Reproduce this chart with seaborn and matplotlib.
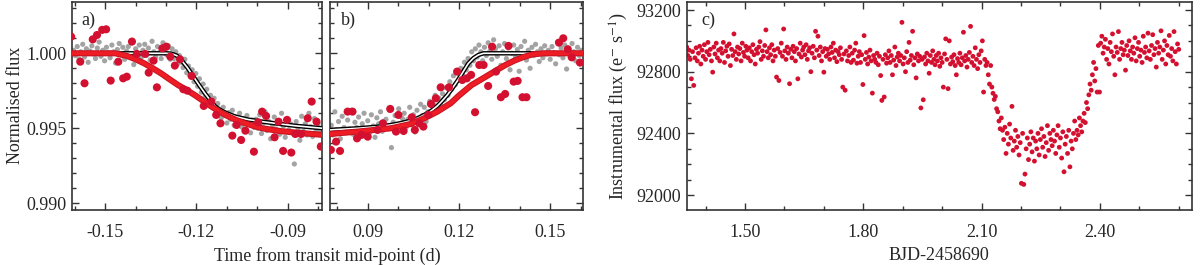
import numpy as np
import pandas as pd
import matplotlib
matplotlib.use("Agg")
import matplotlib.pyplot as plt
import seaborn as sns
from matplotlib.ticker import MultipleLocator, FormatStrFormatter

# Panel a: grey points (other light curves), red points, model curves

gray_a_x = [
    -0.1604, -0.1598, -0.1592, -0.1586, -0.1580, -0.1574, -0.1568, -0.1562, -0.1556, -0.1550,
    -0.1544, -0.1538, -0.1532, -0.1526, -0.1520, -0.1514, -0.1508, -0.1502, -0.1496, -0.1490,
    -0.1484, -0.1478, -0.1472, -0.1466, -0.1460, -0.1454, -0.1448, -0.1442, -0.1436, -0.1430,
    -0.1424, -0.1418, -0.1412, -0.1406, -0.1400, -0.1394, -0.1388, -0.1382, -0.1376, -0.1370,
    -0.1364, -0.1358, -0.1352, -0.1346, -0.1340, -0.1334, -0.1328, -0.1322, -0.1316, -0.1310,
    -0.1304, -0.1298, -0.1292, -0.1286, -0.1280, -0.1274, -0.1268, -0.1262, -0.1256, -0.1250,
    -0.1244, -0.1238, -0.1232, -0.1226, -0.1220, -0.1214, -0.1208, -0.1202, -0.1196, -0.1190,
    -0.1184, -0.1178, -0.1172, -0.1166, -0.1160, -0.1154, -0.1148, -0.1142, -0.1136, -0.1130,
    -0.1124, -0.1118, -0.1112, -0.1106, -0.1100, -0.1094, -0.1088, -0.1082, -0.1076, -0.1070,
    -0.1064, -0.1058, -0.1052, -0.1046, -0.1040, -0.1034, -0.1028, -0.1022, -0.1016, -0.1010,
    -0.1004, -0.0998, -0.0992, -0.0986, -0.0980, -0.0974, -0.0968, -0.0962, -0.0956, -0.0950,
    -0.0944, -0.0938, -0.0932, -0.0926, -0.0920, -0.0914, -0.0908, -0.0902, -0.0896, -0.0890,
    -0.0884, -0.0878, -0.0872, -0.0866, -0.0860, -0.0854, -0.0848, -0.0842, -0.0836, -0.0830,
    -0.0824, -0.0818, -0.0812, -0.0806, -0.0800, -0.0794,
]
gray_a_y = [
    1.00020, 0.99985, 1.00045, 0.99960, 1.00010, 1.00060, 0.99975, 1.00030, 0.99940, 1.00015,
    1.00050, 0.99995, 0.99965, 1.00035, 1.00075, 0.99980, 1.00020, 0.99950, 1.00040, 1.00005,
    0.99970, 1.00055, 1.00010, 0.99935, 1.00025, 1.00065, 0.99990, 1.00040, 0.99960, 1.00015,
    1.00045, 0.99980, 1.00070, 0.99925, 1.00030, 0.99995, 1.00055, 0.99970, 1.00020, 1.00060,
    0.99985, 1.00035, 0.99955, 1.00080, 1.00010, 0.99975, 1.00045, 1.00005, 0.99965, 1.00070,
    1.00025, 0.99990, 1.00050, 0.99960, 1.00030, 0.99965, 1.00010, 0.99930, 0.99985, 0.99940,
    0.99905, 0.99960, 0.99870, 0.99915, 0.99850, 0.99890, 0.99810, 0.99865, 0.99780, 0.99830,
    0.99740, 0.99795, 0.99710, 0.99760, 0.99680, 0.99720, 0.99650, 0.99700, 0.99625, 0.99665,
    0.99610, 0.99570, 0.99640, 0.99585, 0.99535, 0.99605, 0.99560, 0.99620, 0.99520, 0.99575,
    0.99545, 0.99600, 0.99510, 0.99565, 0.99490, 0.99585, 0.99530, 0.99470, 0.99555, 0.99505,
    0.99560, 0.99500, 0.99590, 0.99465, 0.99535, 0.99610, 0.99485, 0.99545, 0.99430, 0.99520,
    0.99575, 0.99495, 0.99545, 0.99460, 0.99600, 0.99515, 0.99440, 0.99555, 0.99490, 0.99530,
    0.99470, 0.99262, 0.99545, 0.99500, 0.99420, 0.99580, 0.99480, 0.99530, 0.99455, 0.99600,
    0.99510, 0.99445, 0.99565, 0.99490, 0.99530, 0.99470,
]

red_a_x = [
    -0.1612, -0.1582, -0.1568, -0.1541, -0.1527, -0.1510, -0.1497, -0.1482, -0.1457, -0.1441,
    -0.1429, -0.1412, -0.1396, -0.1369, -0.1357, -0.1341, -0.1330, -0.1312, -0.1299, -0.1286,
    -0.1271, -0.1254, -0.1243, -0.1230, -0.1216, -0.1176, -0.1151, -0.1135, -0.1121, -0.1082,
    -0.1068, -0.1053, -0.1039, -0.1011, -0.0997, -0.0984, -0.0971, -0.0943, -0.0930, -0.0915,
    -0.0902, -0.0888, -0.0875, -0.0856, -0.0834, -0.0821, -0.0805, -0.0791,
]
red_a_y = [
    1.00111, 0.99944, 0.99800, 1.00093, 1.00122, 1.00156, 1.00160, 0.99818, 0.99944, 0.99833,
    0.99844, 1.00078, 0.99996, 0.99996, 0.99871, 0.99951, 0.99773, 1.00033, 1.00044, 0.99978,
    0.99918, 0.99960, 0.99760, 0.99751, 0.99849, 0.99649, 0.99678, 0.99589, 0.99533, 0.99451,
    0.99522, 0.99422, 0.99484, 0.99344, 0.99540, 0.99611, 0.99582, 0.99440, 0.99544, 0.99349,
    0.99556, 0.99338, 0.99462, 0.99462, 0.99567, 0.99678, 0.99544, 0.99378,
]

model_black_a_x = [-0.1610, -0.1300, -0.1283, -0.1265, -0.1250, -0.1230, -0.1206, -0.1190, -0.1172,
                   -0.1155, -0.1139, -0.1120, -0.1100, -0.1072, -0.1030, -0.0983, -0.0930, -0.0872, -0.0785]
model_black_a_y = [1.00000, 1.00000, 0.99998, 0.99985, 0.99956, 0.99905, 0.99833, 0.99785, 0.99733,
                   0.99688, 0.99647, 0.99620, 0.99600, 0.99578, 0.99558, 0.99544, 0.99530, 0.99516, 0.99500]

model_red_a_x = [-0.1610, -0.1467, -0.1428, -0.1400, -0.1372, -0.1345, -0.1317, -0.1290, -0.1261, -0.1233,
                 -0.1206, -0.1178, -0.1150, -0.1122, -0.1094, -0.1067, -0.1039, -0.1011, -0.0983, -0.0928,
                 -0.0872, -0.0785]
model_red_a_y = [1.00000, 1.00000, 0.99982, 0.99960, 0.99933, 0.99902, 0.99867, 0.99829, 0.99789, 0.99756,
                 0.99722, 0.99683, 0.99644, 0.99608, 0.99578, 0.99553, 0.99533, 0.99515, 0.99500, 0.99482,
                 0.99471, 0.99456]

# Panel b

gray_b_x = [
    0.0780, 0.0786, 0.0792, 0.0798, 0.0804, 0.0810, 0.0816, 0.0822, 0.0828, 0.0834,
    0.0840, 0.0846, 0.0852, 0.0858, 0.0864, 0.0870, 0.0876, 0.0882, 0.0888, 0.0894,
    0.0900, 0.0906, 0.0912, 0.0918, 0.0924, 0.0930, 0.0936, 0.0942, 0.0948, 0.0954,
    0.0960, 0.0966, 0.0972, 0.0978, 0.0984, 0.0990, 0.0996, 0.1002, 0.1008, 0.1014,
    0.1020, 0.1026, 0.1032, 0.1038, 0.1044, 0.1050, 0.1056, 0.1062, 0.1068, 0.1074,
    0.1080, 0.1086, 0.1092, 0.1098, 0.1104, 0.1110, 0.1116, 0.1122, 0.1128, 0.1134,
    0.1140, 0.1146, 0.1152, 0.1158, 0.1164, 0.1170, 0.1176, 0.1182, 0.1188, 0.1194,
    0.1200, 0.1206, 0.1212, 0.1218, 0.1224, 0.1230, 0.1236, 0.1242, 0.1248, 0.1254,
    0.1260, 0.1266, 0.1272, 0.1278, 0.1284, 0.1290, 0.1296, 0.1302, 0.1308, 0.1314,
    0.1320, 0.1326, 0.1332, 0.1338, 0.1344, 0.1350, 0.1356, 0.1362, 0.1368, 0.1374,
    0.1380, 0.1386, 0.1392, 0.1398, 0.1404, 0.1410, 0.1416, 0.1422, 0.1428, 0.1434,
    0.1440, 0.1446, 0.1452, 0.1458, 0.1464, 0.1470, 0.1476, 0.1482, 0.1488, 0.1494,
    0.1500, 0.1506, 0.1512, 0.1518, 0.1524, 0.1530, 0.1536, 0.1542, 0.1548, 0.1554,
    0.1560, 0.1566, 0.1572, 0.1578, 0.1584, 0.1590, 0.1596, 0.1602,
]
gray_b_y = [
    0.99520, 0.99455, 0.99610, 0.99490, 0.99545, 0.99430, 0.99580, 0.99505, 0.99470, 0.99555,
    0.99495, 0.99620, 0.99460, 0.99540, 0.99505, 0.99575, 0.99445, 0.99530, 0.99600, 0.99485,
    0.99550, 0.99470, 0.99590, 0.99515, 0.99440, 0.99570, 0.99530, 0.99610, 0.99480, 0.99545,
    0.99560, 0.99500, 0.99620, 0.99371, 0.99540, 0.99585, 0.99475, 0.99630, 0.99520, 0.99565,
    0.99600, 0.99505, 0.99560, 0.99640, 0.99525, 0.99590, 0.99475, 0.99620, 0.99555, 0.99660,
    0.99585, 0.99640, 0.99545, 0.99610, 0.99680, 0.99595, 0.99660, 0.99720, 0.99630, 0.99700,
    0.99660, 0.99730, 0.99690, 0.99770, 0.99720, 0.99810, 0.99760, 0.99850, 0.99790, 0.99870,
    0.99820, 0.99900, 0.99860, 0.99940, 0.99890, 0.99965, 0.99920, 1.00010, 0.99950, 1.00030,
    0.99975, 1.00055, 1.00010, 0.99950, 1.00040, 0.99985, 1.00070, 1.00015, 0.99960, 1.00090,
    1.00030, 0.99980, 1.00050, 0.99920, 1.00010, 1.00065, 0.99965, 1.00035, 0.99890, 1.00000,
    1.00055, 0.99975, 1.00025, 0.99880, 1.00045, 0.99990, 1.00080, 0.99955, 1.00020, 0.99900,
    1.00040, 0.99985, 1.00060, 1.00010, 0.99945, 1.00030, 0.99970, 1.00050, 0.99995, 1.00020,
    0.99960, 1.00045, 1.00005, 0.99930, 1.00075, 0.99990, 1.00035, 0.99970, 1.00055, 0.99895,
    1.00030, 0.99975, 1.00065, 1.00010, 0.99950, 1.00040, 0.99985, 1.00020,
]

red_b_x = [
    0.0779, 0.0796, 0.0809, 0.0834, 0.0850, 0.0865, 0.0880, 0.0900, 0.0932, 0.0950,
    0.0974, 0.0993, 0.1001, 0.1018, 0.1045, 0.1055, 0.1070, 0.1083, 0.1099, 0.1108,
    0.1124, 0.1140, 0.1167, 0.1194, 0.1211, 0.1226, 0.1240, 0.1253, 0.1267, 0.1281,
    0.1296, 0.1309, 0.1322, 0.1338, 0.1352, 0.1363, 0.1380, 0.1393, 0.1409, 0.1422,
    0.1529, 0.1543, 0.1558, 0.1571, 0.1598,
]
red_b_y = [
    0.99356, 0.99411, 0.99349, 0.99611, 0.99611, 0.99433, 0.99456, 0.99444, 0.99489, 0.99533,
    0.99629, 0.99478, 0.99589, 0.99482, 0.99573, 0.99489, 0.99533, 0.99511, 0.99589, 0.99662,
    0.99700, 0.99773, 0.99773, 0.99878, 0.99822, 0.99833, 0.99856, 0.99607, 0.99922, 0.99922,
    0.99782, 1.00044, 0.99878, 0.99707, 0.99729, 1.00049, 0.99811, 0.99816, 0.99707, 0.99707,
    1.00071, 1.00100, 1.00027, 0.99973, 0.99938,
]

model_black_b_x = [0.0776, 0.0868, 0.0930, 0.0977, 0.1010, 0.1042, 0.1065, 0.1086, 0.1108, 0.1129,
                   0.1145, 0.1162, 0.1180, 0.1197, 0.1214, 0.1231, 0.1248, 0.1264, 0.1281, 0.1610]
model_black_b_y = [0.99489, 0.99500, 0.99510, 0.99522, 0.99535, 0.99551, 0.99568, 0.99589, 0.99615, 0.99649,
                   0.99683, 0.99722, 0.99772, 0.99822, 0.99878, 0.99933, 0.99968, 0.99989, 1.00000, 1.00000]

model_red_b_x = [0.0776, 0.0868, 0.0977, 0.1042, 0.1086, 0.1129, 0.1173, 0.1200, 0.1242, 0.1270,
                 0.1298, 0.1326, 0.1353, 0.1381, 0.1409, 0.1442, 0.1480, 0.1610]
model_red_b_y = [0.99462, 0.99478, 0.99500, 0.99529, 0.99567, 0.99611, 0.99667, 0.99718, 0.99789, 0.99822,
                 0.99856, 0.99890, 0.99922, 0.99950, 0.99973, 0.99993, 1.00000, 1.00000]

# Panel c: raw light curve

c_time = [
    1.352, 1.355, 1.358, 1.361, 1.364, 1.367, 1.370, 1.373, 1.376, 1.379,
    1.382, 1.385, 1.388, 1.391, 1.394, 1.397, 1.400, 1.403, 1.406, 1.409,
    1.412, 1.415, 1.418, 1.421, 1.424, 1.427, 1.430, 1.433, 1.436, 1.439,
    1.442, 1.445, 1.448, 1.451, 1.454, 1.457, 1.460, 1.463, 1.466, 1.469,
    1.472, 1.475, 1.478, 1.481, 1.484, 1.487, 1.490, 1.493, 1.496, 1.499,
    1.502, 1.505, 1.508, 1.511, 1.514, 1.517, 1.520, 1.523, 1.526, 1.529,
    1.532, 1.535, 1.538, 1.541, 1.544, 1.547, 1.550, 1.553, 1.556, 1.559,
    1.562, 1.565, 1.568, 1.571, 1.574, 1.577, 1.580, 1.583, 1.586, 1.589,
    1.592, 1.595, 1.598, 1.601, 1.604, 1.607, 1.610, 1.613, 1.616, 1.619,
    1.622, 1.625, 1.628, 1.631, 1.634, 1.637, 1.640, 1.643, 1.646, 1.649,
    1.652, 1.655, 1.658, 1.661, 1.664, 1.667, 1.670, 1.673, 1.676, 1.679,
    1.682, 1.685, 1.688, 1.691, 1.694, 1.697, 1.700, 1.703, 1.706, 1.709,
    1.712, 1.715, 1.718, 1.721, 1.724, 1.727, 1.730, 1.733, 1.736, 1.739,
    1.742, 1.745, 1.748, 1.751, 1.754, 1.757, 1.760, 1.763, 1.766, 1.769,
    1.772, 1.775, 1.778, 1.781, 1.784, 1.787, 1.790, 1.793, 1.796, 1.799,
    1.802, 1.805, 1.808, 1.811, 1.814, 1.817, 1.820, 1.823, 1.826, 1.829,
    1.832, 1.835, 1.838, 1.841, 1.844, 1.847, 1.850, 1.853, 1.856, 1.859,
    1.862, 1.865, 1.868, 1.871, 1.874, 1.877, 1.880, 1.883, 1.886, 1.889,
    1.892, 1.895, 1.898, 1.901, 1.904, 1.907, 1.910, 1.913, 1.916, 1.919,
    1.922, 1.925, 1.928, 1.931, 1.934, 1.937, 1.940, 1.943, 1.946, 1.949,
    1.952, 1.955, 1.958, 1.961, 1.964, 1.967, 1.970, 1.973, 1.976, 1.979,
    1.982, 1.985, 1.988, 1.991, 1.994, 1.997, 2.000, 2.003, 2.006, 2.009,
    2.012, 2.015, 2.018, 2.021, 2.024, 2.027, 2.030, 2.033, 2.036, 2.039,
    2.042, 2.045, 2.048, 2.051, 2.054, 2.057, 2.060, 2.063, 2.066, 2.069,
    2.072, 2.075, 2.078, 2.081, 2.084, 2.087, 2.090, 2.093, 2.096, 2.099,
    2.102, 2.105, 2.108, 2.111, 2.114, 2.117, 2.120, 2.123, 2.126, 2.129,
    2.132, 2.135, 2.138, 2.141, 2.144, 2.147, 2.150, 2.153, 2.156, 2.159,
    2.162, 2.165, 2.168, 2.171, 2.174, 2.177, 2.180, 2.183, 2.186, 2.189,
    2.192, 2.195, 2.198, 2.201, 2.204, 2.207, 2.210, 2.213, 2.216, 2.219,
    2.222, 2.225, 2.228, 2.231, 2.234, 2.237, 2.240, 2.243, 2.246, 2.249,
    2.252, 2.255, 2.258, 2.261, 2.264, 2.267, 2.270, 2.273, 2.276, 2.279,
    2.282, 2.285, 2.288, 2.291, 2.294, 2.297, 2.300, 2.303, 2.306, 2.309,
    2.312, 2.315, 2.318, 2.321, 2.324, 2.327, 2.330, 2.333, 2.336, 2.339,
    2.342, 2.345, 2.348, 2.351, 2.354, 2.357, 2.360, 2.363, 2.366, 2.369,
    2.372, 2.375, 2.378, 2.381, 2.384, 2.387, 2.390, 2.393, 2.396, 2.399,
    2.402, 2.405, 2.408, 2.411, 2.414, 2.417, 2.420, 2.423, 2.426, 2.429,
    2.432, 2.435, 2.438, 2.441, 2.444, 2.447, 2.450, 2.453, 2.456, 2.459,
    2.462, 2.465, 2.468, 2.471, 2.474, 2.477, 2.480, 2.483, 2.486, 2.489,
    2.492, 2.495, 2.498, 2.501, 2.504, 2.507, 2.510, 2.513, 2.516, 2.519,
    2.522, 2.525, 2.528, 2.531, 2.534, 2.537, 2.540, 2.543, 2.546, 2.549,
    2.552, 2.555, 2.558, 2.561, 2.564, 2.567, 2.570, 2.573, 2.576, 2.579,
    2.582, 2.585, 2.588, 2.591, 2.594, 2.597, 2.600,
]
c_flux = [
    92960, 92905, 92940, 92880, 92754, 92930, 92711, 92890, 92955, 92870,
    92920, 92965, 92850, 92940, 92900, 92975, 92880, 92930, 92990, 92910,
    92945, 92870, 92797, 92960, 92915, 92985, 92890, 92940, 92870, 92950,
    92920, 92990, 92860, 92935, 92965, 92900, 92980, 92840, 92945, 92905,
    93045, 92930, 92880, 92960, 92915, 92950, 92870, 92985, 92925, 92900,
    92965, 92940, 92890, 92955, 92870, 92930, 92975, 92910, 92850, 92945,
    92920, 92960, 92995, 92880, 92935, 92900, 92970, 93071, 92930, 92890,
    92955, 92910, 92975, 92870, 92940, 92900, 92765, 92950, 92743, 92925,
    92985, 92900, 93077, 92935, 92880, 92960, 92920, 92722, 92945, 92890,
    92965, 92930, 92870, 92950, 92754, 92915, 92985, 92895, 92940, 92960,
    92910, 92975, 92880, 92935, 92955, 92800, 92920, 92965, 92890, 93062,
    92940, 93030, 92905, 92960, 92870, 92930, 92797, 92950, 92900, 92945,
    92915, 92880, 92960, 92925, 92985, 92890, 92940, 92865, 92930, 92910,
    92955, 92880, 92700, 92915, 92680, 92935, 92870, 92905, 92960, 92860,
    92920, 92875, 92940, 92985, 92855, 92900, 92930, 92860, 92910, 92717,
    93034, 92880, 92925, 92850, 92895, 92940, 92870, 92661, 92905, 92880,
    92860, 92920, 92845, 92900, 92775, 92614, 92880, 92636, 92910, 92855,
    92890, 92935, 92860, 92905, 92780, 92875, 92960, 92840, 92895, 92920,
    92870, 92905, 93120, 92850, 92890, 92800, 92930, 92860, 92990, 92875,
    92905, 93062, 92845, 92890, 92760, 92915, 92870, 92900, 92565, 92880,
    92618, 92895, 92850, 92920, 92870, 92790, 92905, 92860, 92935, 92880,
    92845, 92905, 92870, 92920, 92835, 92890, 92860, 92700, 92915, 93013,
    92880, 92690, 93000, 92850, 92895, 92865, 92910, 92840, 92780, 92885,
    92860, 92920, 92845, 92890, 93056, 92870, 92905, 92830, 92880, 92925,
    93094, 92860, 92900, 92840, 92955, 92880, 92820, 92910, 92860, 92935,
    93000, 92668, 92880, 92840, 92860, 92780, 92720, 92840, 92700, 92660,
    92620, 92640, 92560, 92540, 92480, 92430, 92500, 92420, 92360, 92440,
    92270, 92400, 92330, 92460, 92370, 92575, 92290, 92350, 92420, 92310,
    92380, 92260, 92340, 92076, 92400, 92069, 92136, 92300, 92370, 92230,
    92330, 92410, 92280, 92370, 92220, 92350, 92300, 92400, 92260, 92360,
    92430, 92310, 92380, 92250, 92340, 92450, 92290, 92400, 92360, 92320,
    92420, 92350, 92270, 92390, 92450, 92310, 92370, 92240, 92410, 92151,
    92330, 92380, 92270, 92420, 92183, 92350, 92300, 92400, 92480, 92360,
    92420, 92390, 92500, 92450, 92410, 92480, 92530, 92470, 92600, 92560,
    92650, 92720, 92680, 92780, 92860, 92740, 92820, 92668, 92970, 92668,
    92985, 93030, 92920, 92960, 93010, 92880, 92950, 92850, 92990, 92930,
    93045, 92900, 92780, 92960, 92925, 93060, 92880, 92950, 92990, 92910,
    92940, 92810, 92970, 92905, 93000, 92935, 92880, 92960, 92920, 93020,
    92870, 92950, 92990, 92900, 92940, 92860, 93030, 92925, 92960, 92890,
    93050, 92935, 92880, 92970, 93040, 92910, 92950, 92830, 92990, 92920,
    92960, 93065, 92880, 92940, 93000, 92850, 92970, 92910, 93035, 92900,
    92950, 92870, 93060, 92930, 92850, 92980, 92945,
]

# Colours

RED_DOT = "#d3102f"
RED_LINE = "#ee1c25"
RED_EDGE = "#c4121f"
GREY = "#a3a3a3"
SPINE = "#333333"

sns.set_style("ticks")
plt.rcParams["font.family"] = ["Liberation Serif", "DejaVu Serif"]
plt.rcParams["mathtext.fontset"] = "stix"
plt.rcParams["axes.unicode_minus"] = False

FS = 13

fig = plt.figure(figsize=(12, 2.65), dpi=100)

ax_a = fig.add_axes([0.0598, 0.2075, 0.2088, 0.7861])
ax_b = fig.add_axes([0.2750, 0.2075, 0.2111, 0.7861])
ax_c = fig.add_axes([0.5722, 0.2075, 0.4211, 0.7861])


def draw_transit(ax, gx, gy, bx, by, mrx, mry, rx, ry):
    sns.scatterplot(x=gx, y=gy, ax=ax, color=GREY, s=14,
                    linewidth=0, edgecolor="none", zorder=2)
    sns.lineplot(x=bx, y=by, ax=ax, color="black", linewidth=3.2,
                 sort=False, estimator=None, zorder=3)
    sns.lineplot(x=bx, y=by, ax=ax, color="white", linewidth=1.2,
                 sort=False, estimator=None, zorder=3.1)
    sns.lineplot(x=mrx, y=mry, ax=ax, color=RED_EDGE, linewidth=4.4,
                 sort=False, estimator=None, zorder=4)
    sns.lineplot(x=mrx, y=mry, ax=ax, color=RED_LINE, linewidth=3.0,
                 sort=False, estimator=None, zorder=4.1)
    sns.scatterplot(x=rx, y=ry, ax=ax, color=RED_DOT, s=34,
                    linewidth=0, edgecolor="none", zorder=5)


draw_transit(ax_a, gray_a_x, gray_a_y, model_black_a_x, model_black_a_y,
             model_red_a_x, model_red_a_y, red_a_x, red_a_y)
draw_transit(ax_b, gray_b_x, gray_b_y, model_black_b_x, model_black_b_y,
             model_red_b_x, model_red_b_y, red_b_x, red_b_y)

sns.scatterplot(x=c_time, y=c_flux, ax=ax_c, color=RED_DOT, s=12,
                linewidth=0, edgecolor="none")

ax_a.set_xlim(-0.1610, -0.0786)
ax_b.set_xlim(0.0776, 0.1609)
for ax in (ax_a, ax_b):
    ax.set_ylim(0.98955, 1.00344)
    ax.xaxis.set_major_locator(MultipleLocator(0.03))
    ax.xaxis.set_minor_locator(MultipleLocator(0.01))
    ax.yaxis.set_major_locator(MultipleLocator(0.005))
    ax.yaxis.set_minor_locator(MultipleLocator(0.001))
    ax.xaxis.set_major_formatter(FormatStrFormatter("%.2f"))
    ax.yaxis.set_major_formatter(FormatStrFormatter("%.3f"))

ax_c.set_xlim(1.352, 2.6335)
ax_c.set_ylim(91903, 93254)
ax_c.xaxis.set_major_locator(MultipleLocator(0.3))
ax_c.xaxis.set_minor_locator(MultipleLocator(0.1))
ax_c.yaxis.set_major_locator(MultipleLocator(400))
ax_c.yaxis.set_minor_locator(MultipleLocator(100))
ax_c.xaxis.set_major_formatter(FormatStrFormatter("%.2f"))
ax_c.yaxis.set_major_formatter(FormatStrFormatter("%d"))

for ax in (ax_a, ax_b, ax_c):
    ax.set_xlabel("")
    ax.set_ylabel("")
    ax.tick_params(which="both", direction="in", top=True, right=True,
                   labelsize=FS, color=SPINE, width=1.0)
    ax.tick_params(which="major", length=5)
    ax.tick_params(which="minor", length=3)
    ax.tick_params(axis="x", pad=10)
    ax.tick_params(axis="y", pad=4)
    for sp in ax.spines.values():
        sp.set_linewidth(1.2)
        sp.set_color(SPINE)

ax_b.tick_params(labelleft=False)

ax_a.set_ylabel("Normalised flux", fontsize=FS)
ax_a.yaxis.set_label_coords(-0.19, 0.5)
ax_c.set_ylabel(r"Instrumental flux (e$^{-}$ s$^{-1}$)", fontsize=FS)
ax_c.yaxis.set_label_coords(-0.112, 0.5)

fig.text(0.2729, 0.035, "Time from transit mid-point (d)", ha="center", va="center", fontsize=FS)
fig.text(0.7826, 0.035, "BJD-2458690", ha="center", va="center", fontsize=FS)

ax_a.text(0.04, 0.95, "a)", transform=ax_a.transAxes, ha="left", va="top", fontsize=FS)
ax_b.text(0.045, 0.95, "b)", transform=ax_b.transAxes, ha="left", va="top", fontsize=FS)
ax_c.text(0.03, 0.95, "c)", transform=ax_c.transAxes, ha="left", va="top", fontsize=FS)

fig.savefig("out.png", dpi=100)
